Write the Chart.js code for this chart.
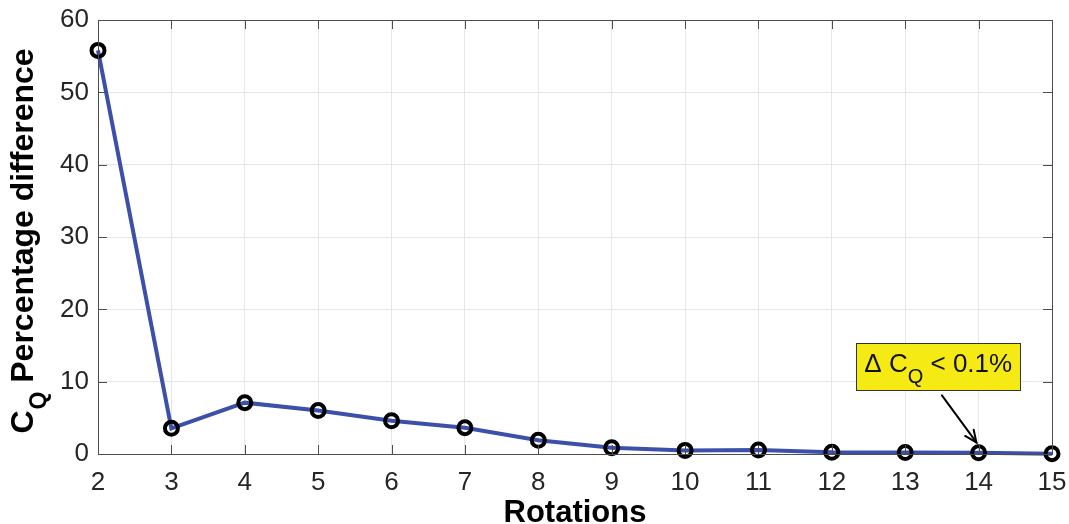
<!DOCTYPE html>
<html><head><meta charset="utf-8">
<script src="https://cdn.jsdelivr.net/npm/chart.js@4"></script>
<style>html,body{margin:0;padding:0;background:#fff}#wrap{width:1069px;height:524px}</style>
</head><body><div id="wrap"><canvas id="c" width="1069" height="524"></canvas></div>
<script>
const rotations = [2, 3, 4, 5, 6, 7, 8, 9, 10, 11, 12, 13, 14, 15];
const cqPercentDiff = [55.8, 3.55, 7.1, 6.0, 4.6, 3.64, 1.9, 0.87, 0.5, 0.55, 0.23, 0.2, 0.18, 0.05];
const xTickValues = [2, 3, 4, 5, 6, 7, 8, 9, 10, 11, 12, 13, 14, 15];
const yTickValues = [0, 10, 20, 30, 40, 50, 60];
const xTitle = 'Rotations';
const yTitleParts = ['C', 'Q', ' Percentage difference'];
const annoParts = ['\u0394 C', 'Q', ' < 0.1%'];
const annoBox = {x: 13.45, y: 12.1};
const annoArrowFrom = {x: 13.5, y: 8.1};
const annoArrowTo = {x: 13.97, y: 1.6};

const FONT = '"Liberation Sans", Helvetica, Arial, sans-serif';
const AXIS = '#4d4d4d';

const decor = {
  id: 'decor',
  afterDatasetsDraw(chart) {
    const ctx = chart.ctx, a = chart.chartArea;
    const xs = chart.scales.x, ys = chart.scales.y;
    ctx.save();
    ctx.strokeStyle = AXIS; ctx.lineWidth = 1;
    ctx.strokeRect(Math.round(a.left) + 0.5, Math.round(a.top) + 0.5, Math.round(a.right - a.left), Math.round(a.bottom - a.top));
    const tl = 9;
    ctx.beginPath();
    xTickValues.forEach(v => {
      const px = Math.round(xs.getPixelForValue(v)) + 0.5;
      ctx.moveTo(px, a.bottom); ctx.lineTo(px, a.bottom - tl);
      ctx.moveTo(px, a.top); ctx.lineTo(px, a.top + tl);
    });
    yTickValues.forEach(v => {
      const py = Math.round(ys.getPixelForValue(v)) + 0.5;
      ctx.moveTo(a.left, py); ctx.lineTo(a.left + tl, py);
      ctx.moveTo(a.right, py); ctx.lineTo(a.right - tl, py);
    });
    ctx.stroke();
    ctx.restore();
  },
  afterDraw(chart) {
    const ctx = chart.ctx, a = chart.chartArea;
    const xs = chart.scales.x, ys = chart.scales.y;
    ctx.save();
    ctx.fillStyle = '#000';
    ctx.font = 'bold 31px ' + FONT;
    ctx.textAlign = 'center'; ctx.textBaseline = 'alphabetic';
    ctx.fillText(xTitle, (a.left + a.right) / 2, 522);
    const big = 'bold 32px ' + FONT, small = 'bold 23px ' + FONT;
    ctx.font = big; const w0 = ctx.measureText(yTitleParts[0]).width;
    const w2 = ctx.measureText(yTitleParts[2]).width;
    ctx.font = small; const w1 = ctx.measureText(yTitleParts[1]).width;
    const total = w0 + w1 + 1 + w2;
    ctx.translate(33, 241);
    ctx.rotate(-Math.PI / 2);
    ctx.textAlign = 'left';
    let x = -total / 2;
    ctx.font = big; ctx.fillText(yTitleParts[0], x, 0); x += w0 + 1;
    ctx.font = small; ctx.fillText(yTitleParts[1], x, 13); x += w1;
    ctx.font = big; ctx.fillText(yTitleParts[2], x, 0);
    ctx.restore();

    ctx.save();
    const bigA = '26px ' + FONT, smallA = '20px ' + FONT;
    ctx.font = bigA; const a0 = ctx.measureText(annoParts[0]).width, a2 = ctx.measureText(annoParts[2]).width;
    ctx.font = smallA; const a1 = ctx.measureText(annoParts[1]).width;
    const tw = a0 + a1 + a2;
    const bw = 164, bh = 47;
    const cx = xs.getPixelForValue(annoBox.x), cy = ys.getPixelForValue(annoBox.y);
    const bx = Math.round(cx - bw / 2) + 0.5, by = Math.round(cy - bh / 2) + 0.5;
    ctx.fillStyle = '#f5ea14';
    ctx.fillRect(bx, by, bw, bh);
    ctx.strokeStyle = '#333'; ctx.lineWidth = 1;
    ctx.strokeRect(bx, by, bw, bh);
    ctx.fillStyle = '#111'; ctx.textBaseline = 'alphabetic'; ctx.textAlign = 'left';
    let tx = cx - tw / 2; const base = cy + 6;
    ctx.font = bigA; ctx.fillText(annoParts[0], tx, base); tx += a0;
    ctx.font = smallA; ctx.fillText(annoParts[1], tx, base + 11); tx += a1;
    ctx.font = bigA; ctx.fillText(annoParts[2], tx, base);
    const x1 = xs.getPixelForValue(annoArrowFrom.x), y1 = ys.getPixelForValue(annoArrowFrom.y);
    const x2 = xs.getPixelForValue(annoArrowTo.x), y2 = ys.getPixelForValue(annoArrowTo.y);
    ctx.strokeStyle = '#000'; ctx.lineWidth = 2; ctx.lineCap = 'round';
    ctx.beginPath(); ctx.moveTo(x1, y1); ctx.lineTo(x2, y2); ctx.stroke();
    const ang = Math.atan2(y2 - y1, x2 - x1), hl = 13, ha = 0.42;
    ctx.beginPath();
    ctx.moveTo(x2 - hl * Math.cos(ang - ha), y2 - hl * Math.sin(ang - ha));
    ctx.lineTo(x2, y2);
    ctx.lineTo(x2 - hl * Math.cos(ang + ha), y2 - hl * Math.sin(ang + ha));
    ctx.stroke();
    ctx.restore();
  }
};

function zeroPad(s) { s.paddingLeft = 0; s.paddingRight = 0; s.paddingTop = 0; s.paddingBottom = 0; }

new Chart(document.getElementById('c'), {
  type: 'line',
  data: {
    datasets: [{
      data: rotations.map((r, i) => ({x: r, y: cqPercentDiff[i]})),
      borderColor: 'rgb(60,80,170)',
      borderWidth: 4,
      pointRadius: 6.5,
      pointBorderWidth: 4,
      pointBorderColor: '#000',
      pointBackgroundColor: 'rgba(0,0,0,0)',
      tension: 0,
      clip: false
    }]
  },
  options: {
    responsive: false,
    devicePixelRatio: 1,
    animation: false,
    events: [],
    layout: {padding: {left: 0, top: 20, right: 17, bottom: 0}},
    plugins: {legend: {display: false}, tooltip: {enabled: false}},
    scales: {
      x: {
        type: 'linear', min: 2, max: 15,
        afterBuildTicks: s => { s.ticks = xTickValues.map(v => ({value: v})); },
        afterFit: s => { s.height = 70; zeroPad(s); },
        grid: {color: '#e6e6e6', drawTicks: false},
        border: {display: false},
        ticks: {font: {family: FONT, size: 26}, color: '#262626', padding: 13, maxRotation: 0, autoSkip: false}
      },
      y: {
        min: 0, max: 60,
        afterBuildTicks: s => { s.ticks = yTickValues.map(v => ({value: v})); },
        afterFit: s => { s.width = 98; zeroPad(s); },
        grid: {color: '#e6e6e6', drawTicks: false},
        border: {display: false},
        ticks: {font: {family: FONT, size: 26}, color: '#262626', padding: 9}
      }
    }
  },
  plugins: [decor]
});
</script></body></html>
